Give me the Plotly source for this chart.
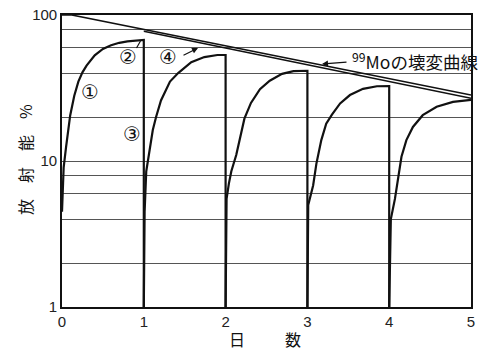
import plotly.graph_objects as go

# ---- data (days, % activity) ----
mo_day = [0.0, 0.12, 5.0]
mo_pct = [100, 100, 28.3]
mo2_day = [1.0, 5.0]
mo2_pct = [77.5, 26.9]

c1_day = [0.0, 0.02, 0.05, 0.10, 0.15, 0.20, 0.25, 0.30, 0.40, 0.50, 0.60, 0.70, 0.80, 0.90, 0.97, 1.0, 1.0]
c1_pct = [4.5, 9, 12.5, 20.5, 28, 35, 40.5, 45, 53, 58.5, 62, 64.5, 66, 67, 67.5, 67.5, 1]

c2_day = [1.0, 1.01, 1.03, 1.07, 1.11, 1.15, 1.21, 1.32, 1.42, 1.58, 1.74, 1.90, 2.0, 2.0]
c2_pct = [1, 4.5, 8.5, 12, 16.3, 20, 26, 35, 40, 47.5, 51.5, 53.2, 53.2, 1]

c3_day = [2.0, 2.012, 2.04, 2.07, 2.13, 2.19, 2.23, 2.31, 2.42, 2.54, 2.69, 2.83, 3.0, 3.0]
c3_pct = [1, 5.5, 7, 8.5, 11, 15.5, 19.5, 25, 31, 35.5, 39.5, 41.3, 41.5, 1]

c4_day = [3.0, 3.01, 3.07, 3.11, 3.17, 3.23, 3.30, 3.40, 3.52, 3.68, 3.85, 4.0, 4.0]
c4_pct = [1, 5, 6.8, 9.6, 13.9, 18, 20.8, 24.8, 28.3, 31.2, 32.5, 32.6, 1]

c5_day = [4.0, 4.02, 4.07, 4.11, 4.15, 4.21, 4.29, 4.41, 4.58, 4.78, 5.0]
c5_pct = [1, 4, 5.5, 7.8, 10.7, 13.9, 17.1, 20.6, 23.5, 25.4, 26.2]

y_ticks = [1, 2, 4, 6, 8, 10, 20, 40, 60, 80, 100]
y_labels = ["1", "", "", "", "", "10", "", "", "", "", "100"]
x_ticks = [0, 1, 2, 3, 4, 5]

CJK = "Noto Sans CJK JP"
CIRC = "DejaVu Sans"
INK = "#111111"

fig = go.Figure()
for d, p in [(mo_day, mo_pct), (mo2_day, mo2_pct)]:
    fig.add_trace(go.Scatter(x=d, y=p, mode="lines", line=dict(color=INK, width=1.6), hoverinfo="skip"))
for d, p in [(c1_day, c1_pct), (c2_day, c2_pct), (c3_day, c3_pct), (c4_day, c4_pct), (c5_day, c5_pct)]:
    fig.add_trace(go.Scatter(x=d, y=p, mode="lines", line=dict(color=INK, width=2.2), hoverinfo="skip"))

W, H = 486, 351
L, R, T, B = 62, 15, 15, 44
pw, ph = W - L - R, H - T - B

def px(x):
    return (x - L) / pw

def py(y):
    return 1 - (y - T) / ph

def label(text, cx, cy, family, size, **kw):
    d = dict(x=px(cx), y=py(cy), xref="paper", yref="paper", text=text, showarrow=False,
             xanchor="center", yanchor="middle", font=dict(family=family, size=size, color=INK))
    d.update(kw)
    return d

annotations = [
    label("<sup>99</sup>Moの壊変曲線", 350, 61, CJK, 17.5, xanchor="left"),
    label("①", 89.5, 91.7, CIRC, 20),
    label("②", 127.5, 57.5, CIRC, 20),
    label("③", 132, 134, CIRC, 20),
    label("④", 168, 56.7, CIRC, 20),
    dict(x=px(198), y=py(48), xref="paper", yref="paper", text="", showarrow=True,
         ax=-16, ay=8, arrowhead=2, arrowsize=1, arrowwidth=1.2, arrowcolor=INK),
    dict(x=px(322), y=py(64), xref="paper", yref="paper", text="", showarrow=True,
         ax=26, ay=-2, arrowhead=2, arrowsize=1, arrowwidth=1.2, arrowcolor=INK),
    label("放\u3000射\u3000能\u3000%", 25, 160, CJK, 16, textangle=-90),
    label("日\u3000\u3000\u2002数", 265, 339, CJK, 16),
]
shapes = [
    dict(type="line", xref="paper", yref="paper", x0=px(136.5), y0=py(48), x1=px(140.5), y1=py(41),
         line=dict(color=INK, width=1.2)),
]

fig.update_layout(
    width=W, height=H,
    margin=dict(l=L, r=R, t=T, b=B, autoexpand=False),
    paper_bgcolor="white", plot_bgcolor="white",
    showlegend=False,
    annotations=annotations,
    shapes=shapes,
    font=dict(family="Liberation Sans", color=INK),
    xaxis=dict(range=[0, 5], tickvals=x_ticks, showgrid=False, zeroline=False, automargin=False,
               showline=True, linecolor=INK, linewidth=1.6, mirror=True, ticks="",
               tickfont=dict(family="Liberation Sans", size=15, color="#222")),
    yaxis=dict(type="log", range=[0, 2], tickvals=y_ticks, ticktext=y_labels, automargin=False,
               showgrid=True, gridcolor="#555555", gridwidth=1.3, zeroline=False,
               showline=True, linecolor=INK, linewidth=1.6, mirror=True, ticks="",
               tickfont=dict(family="Liberation Sans", size=15, color="#222")),
)

fig.write_html("out.html", config={"displayModeBar": False},
               post_script="document.body.style.margin='0';document.body.style.overflow='hidden';")
